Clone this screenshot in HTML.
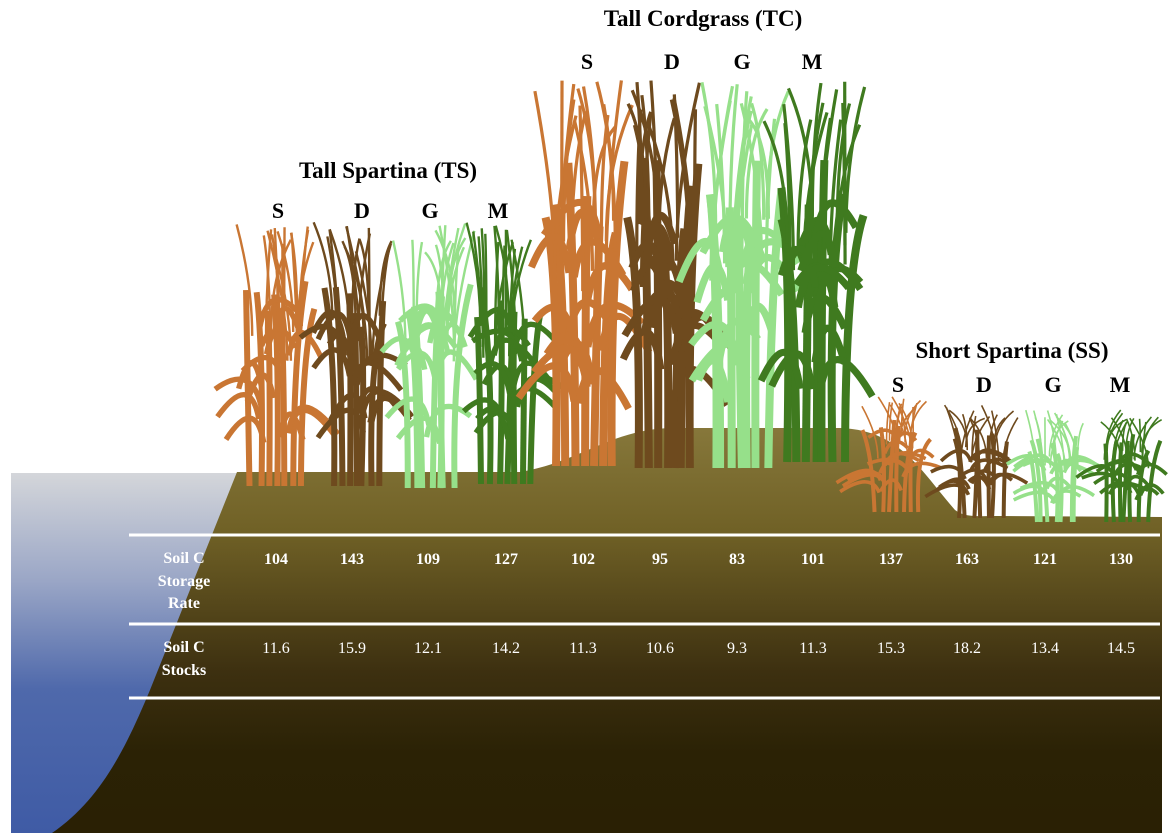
<!DOCTYPE html>
<html><head><meta charset="utf-8"><style>
html,body{margin:0;padding:0;background:#fff;width:1173px;height:833px;overflow:hidden}
svg{display:block}
text{font-family:"Liberation Serif",serif;}
</style></head><body>
<svg id="s" width="1173" height="833" viewBox="0 0 1173 833" xmlns="http://www.w3.org/2000/svg">
<defs>
<linearGradient id="w" x1="0" y1="0" x2="0" y2="1">
<stop offset="0" stop-color="#d4d6da"/><stop offset="0.3" stop-color="#9aa6c6"/><stop offset="0.6" stop-color="#4f69ab"/><stop offset="1" stop-color="#3f5ba5"/></linearGradient>
<linearGradient id="g" x1="0" y1="430" x2="0" y2="833" gradientUnits="userSpaceOnUse">
<stop offset="0" stop-color="#86773a"/><stop offset="0.25" stop-color="#706126"/><stop offset="0.6" stop-color="#3d3010"/><stop offset="0.8" stop-color="#2b2205"/><stop offset="1" stop-color="#2a2004"/></linearGradient>
</defs>
<rect x="11" y="473" width="240" height="360" fill="url(#w)"/>
<path d="M237 472 L520 472 C580 462 610 430 670 428 L840 428 C900 430 920 470 955 510 C965 518 980 516 1000 516 L1162 517 L1162 833 L52 833 C100 800 125 750 150 690 L237 472 Z" fill="url(#g)"/>
<g id="grass"></g>
<g fill="#000" font-weight="bold" text-anchor="middle">
<text x="388" y="178" font-size="23">Tall Spartina (TS)</text>
<text x="278" y="218" font-size="22">S</text><text x="362" y="218" font-size="22">D</text><text x="430" y="218" font-size="22">G</text><text x="498" y="218" font-size="22">M</text>
<text x="703" y="26" font-size="23">Tall Cordgrass (TC)</text>
<text x="587" y="69" font-size="22">S</text><text x="672" y="69" font-size="22">D</text><text x="742" y="69" font-size="22">G</text><text x="812" y="69" font-size="22">M</text>
<text x="1012" y="358" font-size="23">Short Spartina (SS)</text>
<text x="898" y="392" font-size="22">S</text><text x="984" y="392" font-size="22">D</text><text x="1053" y="392" font-size="22">G</text><text x="1120" y="392" font-size="22">M</text>
</g>
<g stroke="#fff" stroke-width="3"><line x1="129" y1="535" x2="1160" y2="535"/><line x1="129" y1="624" x2="1160" y2="624"/><line x1="129" y1="698" x2="1160" y2="698"/></g>
<g fill="#fff" text-anchor="middle" font-size="16" font-weight="bold">
<text x="184" y="563">Soil C</text><text x="184" y="586">Storage</text><text x="184" y="608">Rate</text>
<text x="184" y="652">Soil C</text><text x="184" y="675">Stocks</text>
<text x="276" y="564">104</text><text x="352" y="564">143</text><text x="428" y="564">109</text><text x="506" y="564">127</text><text x="583" y="564">102</text><text x="660" y="564">95</text><text x="737" y="564">83</text><text x="813" y="564">101</text><text x="891" y="564">137</text><text x="967" y="564">163</text><text x="1045" y="564">121</text><text x="1121" y="564">130</text>
</g>
<g fill="#fff" text-anchor="middle" font-size="16">
<text x="276" y="653">11.6</text><text x="352" y="653">15.9</text><text x="428" y="653">12.1</text><text x="506" y="653">14.2</text><text x="583" y="653">11.3</text><text x="660" y="653">10.6</text><text x="737" y="653">9.3</text><text x="813" y="653">11.3</text><text x="891" y="653">15.3</text><text x="967" y="653">18.2</text><text x="1045" y="653">13.4</text><text x="1121" y="653">14.5</text>
</g>
</svg>
<script>
var seed=7;function r(){seed=(seed*16807)%2147483647;return seed/2147483647;}
var C=["#c97633","#6e4a1e","#96e08a","#3f7a1f"];
var clumps=[
[275,486,222,90,0],[355,486,222,90,1],[430,488,222,90,2],[505,484,222,90,3],
[585,466,80,105,0],[665,468,80,105,1],[740,468,80,105,2],[815,462,80,105,3],
[895,512,395,80,0],[980,518,405,80,1],[1055,522,410,80,2],[1125,522,410,80,3]];
var out="";
clumps.forEach(function(c){
 var x=c[0],gy=c[1],ty=c[2],w=c[3],col=C[c[4]],h=gy-ty;
 var sw=h>300?8:(h>200?6:4);
 for(var i=0;i<7;i++){
  var bx=x-w*0.25+i*w*0.085+(r()-0.5)*6;
  var tx=x+(bx-x)*1.4+(r()-0.5)*16;
  var top=ty+h*(0.2+r()*0.2);
  out+='<path d="M'+bx+' '+gy+' Q'+(bx+(r()-0.5)*8)+' '+(gy-h*0.5)+' '+tx+' '+top+'" stroke="'+col+'" stroke-width="'+sw+'" fill="none"/>';
 }
 for(var i=0;i<16;i++){
  var bx=x+(r()-0.5)*w*0.6, by=ty+h*(0.35+r()*0.2);
  var tx=bx+(r()-0.5)*w*0.5, tyy=ty+r()*h*0.12;
  out+='<path d="M'+bx+' '+by+' Q'+bx+' '+(by-h*0.2)+' '+tx+' '+tyy+'" stroke="'+col+'" stroke-width="'+(sw*0.4)+'" fill="none"/>';
 }
 for(var i=0;i<14;i++){
  var side=i%2?1:-1;
  var bx=x+(r()-0.5)*w*0.4, by=ty+h*(0.3+r()*0.45);
  var ex=bx+side*w*(0.25+r()*0.3), ey=by+h*(0.02+r()*0.1);
  out+='<path d="M'+bx+' '+(by+h*0.1)+' Q'+(bx+side*w*0.1)+' '+(by-h*0.08)+' '+ex+' '+ey+'" stroke="'+col+'" stroke-width="'+(sw*0.9)+'" fill="none"/>';
 }
});
document.getElementById("grass").innerHTML=out;
</script>
</body></html>
